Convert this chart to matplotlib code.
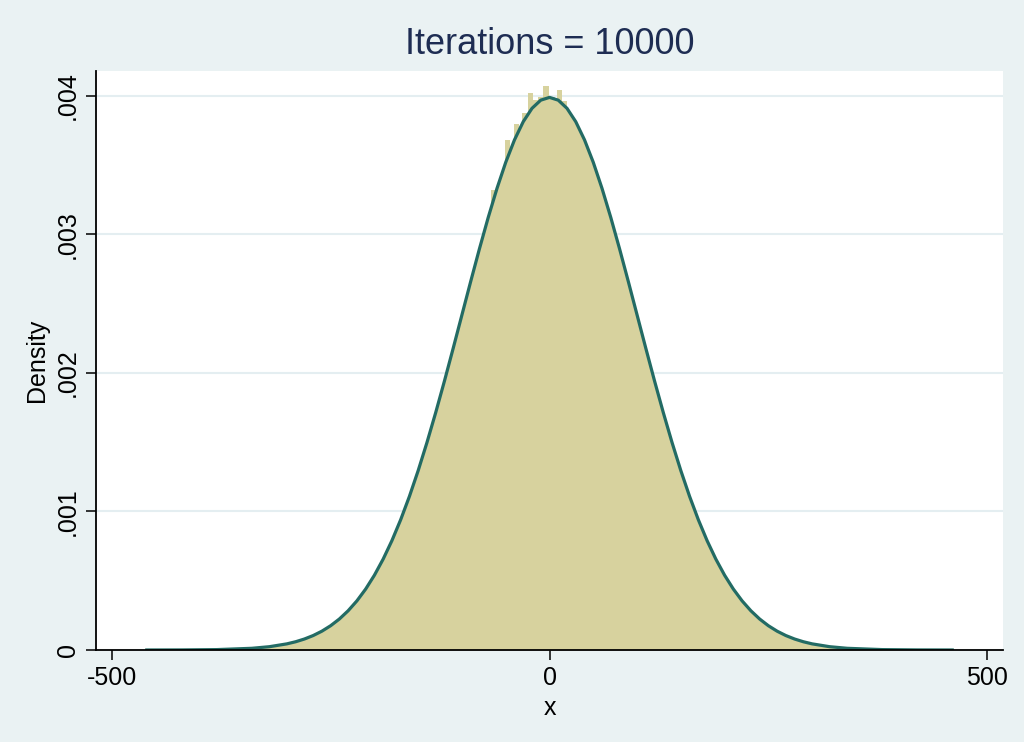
import matplotlib
matplotlib.use('Agg')
import matplotlib.pyplot as plt

plt.rcParams['font.family'] = ['Liberation Sans', 'DejaVu Sans']

TITLE = "Iterations = 10000"

# normal density overlay
curve_x = [-460, -420, -380, -340, -320,
           -300, -290, -280, -270, -260, -250, -240, -230, -220, -210,
           -200, -190, -180, -170, -160, -150, -140, -130, -120, -110,
           -100, -90, -80, -70, -60, -50, -40, -30, -20, -10,
           0, 10, 20, 30, 40, 50, 60, 70, 80, 90,
           100, 110, 120, 130, 140, 150, 160, 170, 180, 190,
           200, 210, 220, 230, 240, 250, 260, 270, 280, 290,
           300, 320, 340, 380, 420, 460]
curve_y = [0.0000001, 0.0000006, 0.0000029, 0.0000123, 0.0000238,
           0.0000443, 0.0000595, 0.0000792, 0.0001042, 0.0001358, 0.0001753, 0.0002239, 0.0002833, 0.0003547, 0.0004398,
           0.0005399, 0.0006562, 0.0007895, 0.0009405, 0.0011092, 0.0012952, 0.0014973, 0.0017137, 0.0019419, 0.0021785,
           0.0024197, 0.0026609, 0.0028969, 0.0031225, 0.0033322, 0.0035207, 0.0036827, 0.0038139, 0.0039104, 0.0039695,
           0.0039894, 0.0039695, 0.0039104, 0.0038139, 0.0036827, 0.0035207, 0.0033322, 0.0031225, 0.0028969, 0.0026609,
           0.0024197, 0.0021785, 0.0019419, 0.0017137, 0.0014973, 0.0012952, 0.0011092, 0.0009405, 0.0007895, 0.0006562,
           0.0005399, 0.0004398, 0.0003547, 0.0002833, 0.0002239, 0.0001753, 0.0001358, 0.0001042, 0.0000792, 0.0000595,
           0.0000443, 0.0000238, 0.0000123, 0.0000029, 0.0000006, 0.0000001]

# histogram outline (fine bins, estimated)
hist_y = [0.0000002, 0.0000008, 0.0000031, 0.0000130, 0.0000250,
          0.0000460, 0.0000610, 0.0000810, 0.0001070, 0.0001390, 0.0001780, 0.0002270, 0.0002870, 0.0003580, 0.0004430,
          0.0005430, 0.0006600, 0.0007930, 0.0009440, 0.0011130, 0.0012990, 0.0015010, 0.0017170, 0.0019450, 0.0021820,
          0.0024230, 0.0026650, 0.0029000, 0.0031260, 0.0033360, 0.0035240, 0.0036870, 0.0038200, 0.0039200, 0.0039800,
          0.0040000, 0.0039800, 0.0039180, 0.0038200, 0.0036880, 0.0035250, 0.0033370, 0.0031260, 0.0029000, 0.0026650,
          0.0024230, 0.0021820, 0.0019450, 0.0017170, 0.0015010, 0.0012990, 0.0011130, 0.0009440, 0.0007930, 0.0006600,
          0.0005430, 0.0004430, 0.0003580, 0.0002870, 0.0002270, 0.0001780, 0.0001390, 0.0001070, 0.0000810, 0.0000610,
          0.0000460, 0.0000250, 0.0000130, 0.0000031, 0.0000008, 0.0000002]

# taller bins poking out near the peak
spike_x = [-64, -48, -38, -28, -22, -16, -10, -4, 3, 11, 17]
spike_y = [0.00332, 0.00368, 0.00380, 0.00388, 0.00402, 0.00397, 0.00399, 0.00407, 0.00399, 0.00404, 0.00396]

x_ticks = [-500, 0, 500]
y_ticks = [0, 0.001, 0.002, 0.003, 0.004]
y_labels = ['0', '.001', '.002', '.003', '.004']

BG = '#EAF2F3'
FILL = '#D7D29E'
LINE = '#236B64'

fig = plt.figure(figsize=(10.24, 7.42), dpi=100)
fig.patch.set_facecolor(BG)
ax = fig.add_axes([96/1024, 92/742, 907/1024, 579/742])
ax.set_facecolor('white')

ax.fill_between(curve_x, hist_y, 0, color=FILL, linewidth=0, zorder=2)
ax.bar(spike_x, spike_y, width=6, color=FILL, linewidth=0, zorder=2)
ax.plot(curve_x, curve_y, color=LINE, lw=2.3, zorder=3)

ax.set_xlim(-518, 518)
ax.set_ylim(0, 0.00418)
ax.set_xticks(x_ticks)
ax.set_xticklabels([str(t) for t in x_ticks])
ax.set_yticks(y_ticks)
ax.set_yticklabels(y_labels)
ax.yaxis.grid(True, color='#E4EEF1', lw=1.5, zorder=1)
ax.set_axisbelow(True)

for s in ['top', 'right']:
    ax.spines[s].set_visible(False)
for s in ['left', 'bottom']:
    ax.spines[s].set_linewidth(1.3)
    ax.spines[s].set_zorder(4)

ax.tick_params(axis='both', length=7.5, width=1.1, labelsize=18, color='black')
ax.tick_params(axis='x', pad=4)
ax.tick_params(axis='y', pad=4, labelrotation=90)
for lab in ax.get_yticklabels():
    lab.set_va('center')

fig.text(549.5/1024, 1 - 45/742, TITLE, ha='center', va='center', fontsize=26, color='#1E2D53')
fig.text(549.5/1024, 1 - 708/742, 'x', ha='center', va='center', fontsize=18)
fig.text(37/1024, 1 - 360/742, 'Density', ha='center', va='center', fontsize=18, rotation=90)

fig.savefig('out.png', dpi=100, facecolor=BG)
